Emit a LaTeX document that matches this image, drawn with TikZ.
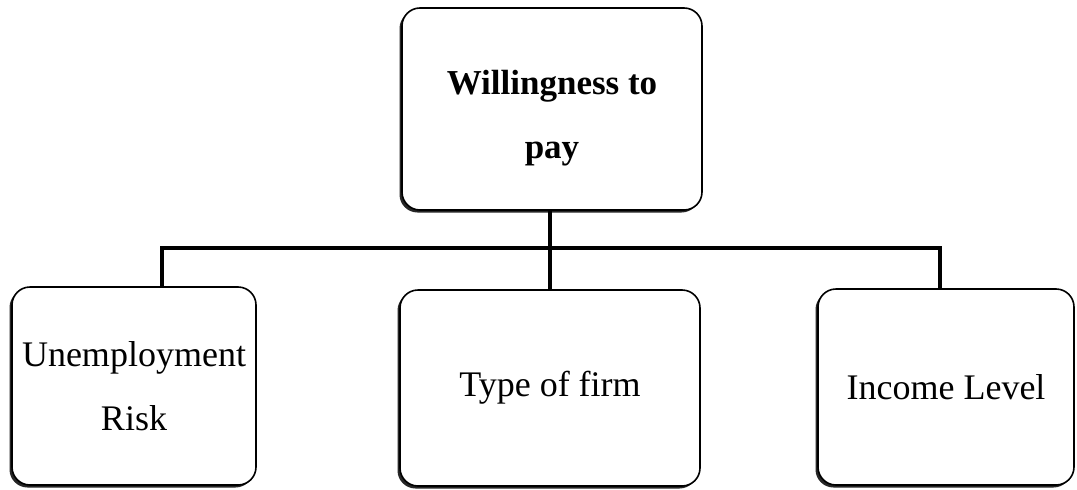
\documentclass[tikz,border=0pt]{standalone}
\usepackage{fontspec}
\setmainfont{Liberation Serif}
\usetikzlibrary{positioning,shadows}
\tikzset{
    block/.style={
            rectangle,
            draw,
            line width=1.6pt,
            rounded corners=18pt,
            fill=white,
            align=center,
            font=\fontsize{36}{64}\selectfont,
            drop shadow={shadow xshift=-2.5pt, shadow yshift=-2.5pt, fill=black, opacity=0.85}
        },
    root/.style={
            block,
            font=\fontsize{35}{64}\selectfont\bfseries
        },
    link/.style={
            line width=4pt
        }
}
\begin{document}
\begin{tikzpicture}[x=1pt,y=-1pt]
  \useasboundingbox (0,0) rectangle (1077,490);
  \node[root, minimum width=300pt, minimum height=202pt] (wtp) at (552,109) {\rule{0pt}{42pt}Willingness to\\pay};
  \node[block, minimum width=244pt, minimum height=198pt] (risk) at (134,386) {Unemployment\\Risk};
  \node[block, minimum width=300pt, minimum height=196pt] (firm) at (550,388) {Type of firm};
  \node[block, minimum width=256pt, minimum height=196pt] (income) at (946,387) {Income Level};
  \coordinate (busL) at (162,248);
  \coordinate (busR) at (940,248);
  \draw[link] (wtp.south -| firm.north) -- (firm.north);
  \draw[link] (risk.north -| busL) |- (busR) -- (income.north -| busR);
\end{tikzpicture}
\end{document}
